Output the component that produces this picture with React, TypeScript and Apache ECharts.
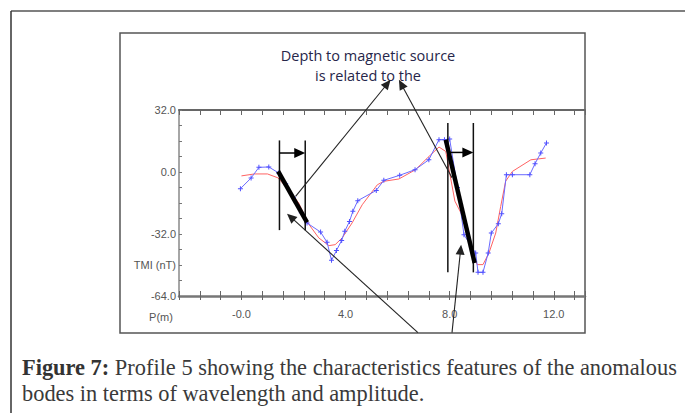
import React, { useEffect, useRef } from 'react';
import * as echarts from 'echarts';

// Observed TMI profile (blue, with + markers)
const blueX = [-0.04, 0.37, 0.67, 1.05, 1.43, 1.7, 2.0, 2.3, 2.52, 3.04, 3.29, 3.46, 3.65, 3.85, 3.97, 4.15, 4.28, 4.47, 5.18, 5.47, 6.08, 6.67, 7.2, 7.59, 7.8, 8.0, 8.3, 8.55, 9.0, 9.09, 9.28, 9.48, 9.6, 9.87, 10.0, 10.18, 10.41, 11.08, 11.28, 11.5, 11.72];
const blueY = [-8.6, -3.1, 2.4, 2.6, -0.5, -6, -13, -21, -26.3, -31.0, -36.3, -45.6, -40.5, -35.3, -30.6, -25.5, -20.3, -14.8, -9.5, -4.3, -1.7, 1.2, 6.3, 16.7, 16.7, 17.0, -8, -32.4, -41.8, -51.8, -51.8, -41.8, -31.5, -26.7, -21.5, -1.4, -1.4, -1.4, 4.3, 9.8, 15.0];

// Smoothed / model profile (red)
const redX = [0.0, 0.5, 1.0, 1.4, 1.8, 2.2, 2.59, 2.97, 3.36, 3.6, 3.87, 4.25, 4.64, 5.22, 5.47, 6.05, 6.69, 7.14, 7.59, 7.85, 8.2, 8.62, 8.93, 9.06, 9.28, 9.51, 9.77, 9.96, 10.15, 10.41, 11.12, 11.69];
const redY = [-2, -1, -1, -3, -9, -16, -27, -34, -38, -37.5, -34, -26.3, -16.9, -6.6, -4.8, -3.6, 1.2, 7.2, 12.9, 10.6, -15, -26, -44.4, -47.8, -47.8, -41.8, -31.5, -17.8, -4.8, 0.3, 6.3, 7.2];

// Tick labels
const xLabelValues = [0, 4, 8, 12];
const xLabelTexts = ['-0.0', '4.0', '8.0', '12.0'];
const yLabelValues = [32, 0, -32, -48, -64];
const yLabelTexts = ['32.0', '0.0', '-32.0', 'TMI (nT)', '-64.0'];

// Annotations in data units: [x1, y1, x2, y2]
const bracketLines = [[1.46, 16.3, 1.46, -30], [2.45, 16.3, 2.45, -30], [7.93, 25.3, 7.93, -51.8], [8.91, 25.3, 8.91, -51.8]];
const slopeLines = [[1.41, 0.3, 2.52, -26.0], [7.85, 16.7, 8.96, -47]];
const widthArrows = [[1.46, 9.8, 2.45, 9.8], [7.93, 10.1, 8.91, 10.1]];
const pointerArrows = [[2.08, -12.6, 5.73, 47.6], [8.09, -3.0, 6.05, 47.6], [6.78, -82.9, 1.75, -21.5], [8.09, -82.9, 8.44, -37.5]];

const titleLines = ['Depth to magnetic source', 'is related to the'];
const captionBold = 'Figure 7:';
const captionLine1 = ' Profile 5 showing the characteristics features of the anomalous';
const captionLine2 = 'bodes in terms of wavelength and amplitude.';

const axisFont = '"Liberation Sans Narrow", "Arial Narrow", "Liberation Sans", sans-serif';
const captionFont = '22.4px "Liberation Serif", serif';

const annoStyles = [
  { color: '#111', width: 1.5, head: 0, hw: 0 },
  { color: '#000', width: 4.5, head: 0, hw: 0 },
  { color: '#000', width: 1.5, head: 11, hw: 5 },
  { color: '#222', width: 1.1, head: 10, hw: 4.5 },
];

export default function App() {
  const ref = useRef<HTMLDivElement>(null);
  useEffect(() => {
    const chart = echarts.init(ref.current!, null, { renderer: 'svg' });
    const near = (a: number, b: number) => Math.abs(a - b) < 1e-6;
    const xFmt = (v: number) => {
      const i = xLabelValues.findIndex((l) => near(l, v));
      return i >= 0 ? xLabelTexts[i] : '';
    };
    const yFmt = (v: number) => {
      const i = yLabelValues.findIndex((l) => near(l, v));
      return i >= 0 ? yLabelTexts[i] : '';
    };
    const annoData: number[][] = [];
    bracketLines.forEach((s) => annoData.push([...s, 0]));
    slopeLines.forEach((s) => annoData.push([...s, 1]));
    widthArrows.forEach((s) => annoData.push([...s, 2]));
    pointerArrows.forEach((s) => annoData.push([...s, 3]));

    const xBase = { type: 'value', min: -2.4, max: 13.2, interval: 0.8, splitLine: { show: false } };

    const option: any = {
      animation: false,
      backgroundColor: '#fff',
      grid: { left: 179, right: 100, top: 110, bottom: 117, containLabel: false },
      xAxis: [
        {
          ...xBase,
          position: 'bottom',
          axisLine: { onZero: false, lineStyle: { color: '#777', width: 2.5 } },
          axisTick: { show: true, inside: false, length: 4, lineStyle: { color: '#666', width: 1 } },
          axisLabel: { formatter: xFmt, margin: 12, color: '#555', fontSize: 11, fontFamily: axisFont },
        },
        {
          ...xBase,
          position: 'bottom',
          axisLine: { show: false, onZero: false },
          axisTick: { show: true, inside: true, length: 5, lineStyle: { color: '#666', width: 1 } },
          axisLabel: { show: false },
        },
        {
          ...xBase,
          position: 'top',
          axisLine: { onZero: false, lineStyle: { color: '#666', width: 2 } },
          axisTick: { show: true, inside: true, length: 5, lineStyle: { color: '#666', width: 1 } },
          axisLabel: { show: false },
        },
      ],
      yAxis: {
        type: 'value',
        min: -64,
        max: 32,
        interval: 8,
        splitLine: { show: false },
        axisLine: { show: true, onZero: false, lineStyle: { color: '#888', width: 1.5 } },
        axisTick: { show: true, inside: true, length: 3, lineStyle: { color: '#777' } },
        axisLabel: { formatter: yFmt, margin: 3, color: '#555', fontSize: 11, fontFamily: axisFont },
      },
      series: [
        {
          type: 'line',
          xAxisIndex: 0,
          data: redX.map((x, i) => [x, redY[i]]),
          showSymbol: false,
          symbol: 'none',
          lineStyle: { color: '#ff6262', width: 1 },
          z: 2,
        },
        {
          type: 'line',
          xAxisIndex: 0,
          data: blueX.map((x, i) => [x, blueY[i]]),
          symbol: 'path://M4 0h2v4h4v2h-4v4h-2v-4h-4v-2h4z',
          symbolSize: 5,
          itemStyle: { color: '#5050ff' },
          lineStyle: { color: '#6a6aff', width: 1 },
          z: 3,
        },
        {
          type: 'custom',
          xAxisIndex: 0,
          clip: false,
          z: 5,
          encode: { x: [0, 2], y: [1, 3] },
          data: annoData,
          renderItem: (params: any, api: any) => {
            const p1 = api.coord([api.value(0), api.value(1)]);
            const p2 = api.coord([api.value(2), api.value(3)]);
            const st = annoStyles[api.value(4)];
            const children: any[] = [];
            let ex = p2[0];
            let ey = p2[1];
            if (st.head > 0) {
              const dx = p2[0] - p1[0];
              const dy = p2[1] - p1[1];
              const len = Math.sqrt(dx * dx + dy * dy);
              const ux = dx / len;
              const uy = dy / len;
              const bx = p2[0] - ux * st.head;
              const by = p2[1] - uy * st.head;
              ex = bx + ux * 1;
              ey = by + uy * 1;
              children.push({
                type: 'polygon',
                shape: { points: [[p2[0], p2[1]], [bx - uy * st.hw, by + ux * st.hw], [bx + uy * st.hw, by - ux * st.hw]] },
                style: { fill: st.color },
              });
            }
            children.unshift({
              type: 'line',
              shape: { x1: p1[0], y1: p1[1], x2: ex, y2: ey },
              style: { stroke: st.color, lineWidth: st.width },
            });
            return { type: 'group', children };
          },
        },
      ],
      graphic: [
        { type: 'line', shape: { x1: 11, y1: 11, x2: 685, y2: 11 }, style: { stroke: '#555', lineWidth: 1.5 } },
        { type: 'line', shape: { x1: 11, y1: 11, x2: 11, y2: 413 }, style: { stroke: '#333', lineWidth: 1.5 } },
        { type: 'rect', shape: { x: 120, y: 33, width: 465, height: 300 }, style: { fill: 'none', stroke: '#555', lineWidth: 1.5 } },
        {
          type: 'text', x: 368, y: 55,
          style: { text: titleLines[0], font: '14.5px "Open Sans", sans-serif', fill: '#26264a', align: 'center', verticalAlign: 'middle' },
        },
        {
          type: 'text', x: 368, y: 75,
          style: { text: titleLines[1], font: '14.5px "Open Sans", sans-serif', fill: '#26264a', align: 'center', verticalAlign: 'middle' },
        },
        {
          type: 'text', x: 161, y: 317,
          style: { text: 'P(m)', font: '11px ' + axisFont, fill: '#555', align: 'center', verticalAlign: 'middle' },
        },
        {
          type: 'text', x: 22, y: 367,
          style: {
            text: '{b|' + captionBold + '}' + captionLine1,
            font: captionFont,
            fill: '#3a3a3a',
            verticalAlign: 'middle',
            rich: { b: { font: 'bold ' + captionFont, fill: '#333' } },
          },
        },
        {
          type: 'text', x: 22, y: 393,
          style: { text: captionLine2, font: captionFont, fill: '#3a3a3a', verticalAlign: 'middle' },
        },
      ],
    };
    chart.setOption(option);
    return () => chart.dispose();
  }, []);
  return <div ref={ref} style={{ position: 'fixed', left: 0, top: 0, width: 685, height: 413, background: '#fff' }} />;
}
